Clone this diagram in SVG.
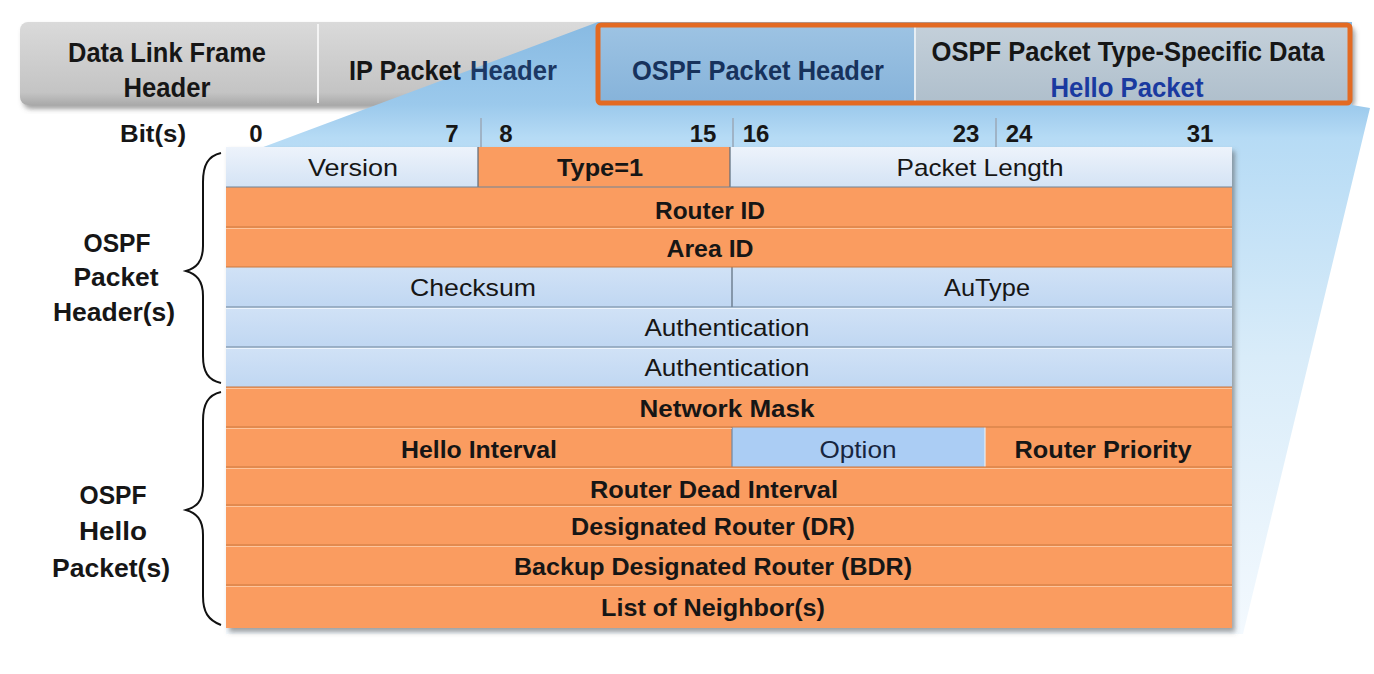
<svg xmlns="http://www.w3.org/2000/svg" width="1374" height="674" viewBox="0 0 1374 674">
<defs>
  <linearGradient id="gBar" x1="0" y1="0" x2="0" y2="1">
    <stop offset="0" stop-color="#dadada"/>
    <stop offset="0.85" stop-color="#c4c4c4"/>
    <stop offset="1" stop-color="#a9a9a9"/>
  </linearGradient>
  <linearGradient id="gFan" gradientUnits="userSpaceOnUse" x1="0" y1="22" x2="0" y2="632">
    <stop offset="0" stop-color="#88bae2"/>
    <stop offset="0.135" stop-color="#9bc9ec"/>
    <stop offset="0.19" stop-color="#b6dbf5"/>
    <stop offset="0.55" stop-color="#d9ecf9"/>
    <stop offset="1" stop-color="#f3f9fe"/>
  </linearGradient>
  <linearGradient id="gOspf" x1="0" y1="0" x2="0" y2="1">
    <stop offset="0" stop-color="#9dc3e3"/>
    <stop offset="1" stop-color="#86b3da"/>
  </linearGradient>
  <linearGradient id="gType" x1="0" y1="0" x2="0" y2="1">
    <stop offset="0" stop-color="#c4d0da"/>
    <stop offset="1" stop-color="#afbfcc"/>
  </linearGradient>
  <linearGradient id="gLight" x1="0" y1="0" x2="0" y2="1">
    <stop offset="0" stop-color="#edf3fb"/>
    <stop offset="1" stop-color="#d4e3f5"/>
  </linearGradient>
  <linearGradient id="gBlue" x1="0" y1="0" x2="0" y2="1">
    <stop offset="0" stop-color="#d1e2f6"/>
    <stop offset="1" stop-color="#c0d7f2"/>
  </linearGradient>
  <filter id="shadow" x="-5%" y="-5%" width="110%" height="115%">
    <feDropShadow dx="3" dy="4" stdDeviation="2.5" flood-color="#555" flood-opacity="0.55"/>
  </filter>
  <style>
    text { font-family: "Liberation Sans", Arial, sans-serif; fill: #161616; text-anchor: middle; }
    .b { font-weight: bold; }
    .st { text-anchor: start; }
    .top { font-size: 28px; font-weight: bold; }
    .cell { font-size: 24px; }
    .bit { font-size: 24px; font-weight: bold; }
    .lab { font-size: 26px; font-weight: bold; }
    .or { fill: #fa9c60; }
    .sepO { stroke: #c9783f; stroke-width: 1.2; }
    .sepOl { stroke: #fdc59d; stroke-width: 1; }
    .sepB { stroke: #6f8398; stroke-width: 1.2; }
    .sepBl { stroke: #eef5fd; stroke-width: 1; }
    .vdiv { stroke: #5a6a7a; stroke-width: 1.2; }
    .tick { stroke: #9fb3c6; stroke-width: 2; }
    .brace { fill: none; stroke: #111; stroke-width: 2; }
  </style>
</defs>

<!-- top bar -->
<g id="top-bar">
  <rect x="20" y="22" width="1332" height="83" rx="8" fill="url(#gBar)" filter="url(#shadow)"/>
</g>

<!-- light blue fan -->
<polygon id="fan" points="598,22 1352,22 1352,105 1370,108 1243,634 226,634 226,161" fill="url(#gFan)"/>

<g id="data-link-frame-header">
  <line x1="318" y1="24" x2="318" y2="103" stroke="#f4f4f4" stroke-width="2"/>
  <text class="top" x="167" y="62" textLength="198" lengthAdjust="spacingAndGlyphs">Data Link Frame</text>
  <text class="top" x="167" y="97" textLength="87" lengthAdjust="spacingAndGlyphs">Header</text>
</g>

<g id="ip-packet-header">
  <text class="top st" x="349" y="80" textLength="112" lengthAdjust="spacingAndGlyphs">IP Packet</text>
  <text class="top st" x="470" y="80" style="fill:#1c3864" textLength="87" lengthAdjust="spacingAndGlyphs">Header</text>
</g>

<g id="ospf-packet-header-top">
  <rect x="598" y="25" width="317" height="78" fill="url(#gOspf)"/>
  <text class="top" x="758" y="80" style="fill:#17325c" textLength="252" lengthAdjust="spacingAndGlyphs">OSPF Packet Header</text>
</g>

<g id="ospf-type-specific-data">
  <rect x="915" y="25" width="435" height="78" fill="url(#gType)"/>
  <line x1="915" y1="27" x2="915" y2="101" stroke="#e6edf3" stroke-width="2"/>
  <text class="top" x="1128" y="61" textLength="393" lengthAdjust="spacingAndGlyphs">OSPF Packet Type-Specific Data</text>
  <text class="top" x="1127" y="97" style="fill:#1a3aa0" textLength="153" lengthAdjust="spacingAndGlyphs">Hello Packet</text>
</g>

<rect id="highlight-box" x="598" y="25" width="752" height="78" rx="3" fill="none" stroke="#e36a22" stroke-width="5"/>

<!-- bit ruler -->
<g id="bit-ruler">
  <text class="bit" x="153" y="142" textLength="66" lengthAdjust="spacingAndGlyphs">Bit(s)</text>
  <text class="bit" x="256" y="142">0</text>
  <text class="bit" x="452" y="142">7</text>
  <text class="bit" x="506" y="142">8</text>
  <text class="bit" x="703" y="142">15</text>
  <text class="bit" x="756" y="142">16</text>
  <text class="bit" x="966" y="142">23</text>
  <text class="bit" x="1019" y="142">24</text>
  <text class="bit" x="1200" y="142">31</text>
  <line class="tick" x1="481" y1="118" x2="481" y2="147"/>
  <line class="tick" x1="733" y1="118" x2="733" y2="147"/>
  <line class="tick" x1="996" y1="118" x2="996" y2="147"/>
</g>

<!-- table -->
<g id="table" filter="url(#shadow)">
  <rect x="226" y="147" width="1006" height="481" class="or"/>
</g>

<g id="version">
  <rect x="226" y="147" width="252" height="40" fill="url(#gLight)"/>
  <text class="cell" x="353" y="176" textLength="90" lengthAdjust="spacingAndGlyphs">Version</text>
</g>
<g id="type">
  <rect x="478" y="147" width="252" height="40" class="or"/>
  <line class="vdiv" x1="478" y1="147" x2="478" y2="187"/>
  <text class="cell b" x="600" y="176" textLength="86" lengthAdjust="spacingAndGlyphs">Type=1</text>
</g>
<g id="packet-length">
  <rect x="730" y="147" width="502" height="40" fill="url(#gLight)"/>
  <line class="vdiv" x1="730" y1="147" x2="730" y2="187"/>
  <text class="cell" x="980" y="176" textLength="167" lengthAdjust="spacingAndGlyphs">Packet Length</text>
</g>
<g id="router-id">
  <rect x="226" y="187" width="1006" height="40" class="or"/>
  <text class="cell b" x="710" y="219" textLength="110" lengthAdjust="spacingAndGlyphs">Router ID</text>
</g>
<g id="area-id">
  <rect x="226" y="227" width="1006" height="40" class="or"/>
  <text class="cell b" x="710" y="257" textLength="87" lengthAdjust="spacingAndGlyphs">Area ID</text>
</g>
<g id="checksum">
  <rect x="226" y="267" width="506" height="40" fill="url(#gBlue)"/>
  <text class="cell" x="473" y="296" textLength="126" lengthAdjust="spacingAndGlyphs">Checksum</text>
</g>
<g id="autype">
  <rect x="732" y="267" width="500" height="40" fill="url(#gBlue)"/>
  <line class="vdiv" x1="732" y1="267" x2="732" y2="307"/>
  <text class="cell" x="987" y="296" textLength="86" lengthAdjust="spacingAndGlyphs">AuType</text>
</g>
<g id="authentication-1">
  <rect x="226" y="307" width="1006" height="40" fill="url(#gBlue)"/>
  <text class="cell" x="727" y="336" textLength="165" lengthAdjust="spacingAndGlyphs">Authentication</text>
</g>
<g id="authentication-2">
  <rect x="226" y="347" width="1006" height="40" fill="url(#gBlue)"/>
  <text class="cell" x="727" y="376" textLength="165" lengthAdjust="spacingAndGlyphs">Authentication</text>
</g>
<g id="network-mask">
  <rect x="226" y="387" width="1006" height="40" class="or"/>
  <text class="cell b" x="727" y="417" textLength="175" lengthAdjust="spacingAndGlyphs">Network Mask</text>
</g>
<g id="hello-interval">
  <rect x="226" y="427" width="506" height="40" class="or"/>
  <text class="cell b" x="479" y="458" textLength="156" lengthAdjust="spacingAndGlyphs">Hello Interval</text>
</g>
<g id="option">
  <rect x="732" y="427" width="253" height="40" fill="#abcdf4"/>
  <line x1="732" y1="427" x2="732" y2="467" stroke="#6e87a4" stroke-width="1.2"/>
  <line x1="985" y1="427" x2="985" y2="467" stroke="#e9eef4" stroke-width="1.2"/>
  <text class="cell" x="858" y="458" style="fill:#17253f" textLength="77" lengthAdjust="spacingAndGlyphs">Option</text>
</g>
<g id="router-priority">
  <rect x="986" y="427" width="246" height="40" class="or"/>
  <text class="cell b" x="1103" y="458" textLength="177" lengthAdjust="spacingAndGlyphs">Router Priority</text>
</g>
<g id="router-dead-interval">
  <rect x="226" y="467" width="1006" height="38" class="or"/>
  <text class="cell b" x="714" y="498" textLength="248" lengthAdjust="spacingAndGlyphs">Router Dead Interval</text>
</g>
<g id="designated-router">
  <rect x="226" y="505" width="1006" height="40" class="or"/>
  <text class="cell b" x="713" y="535" textLength="284" lengthAdjust="spacingAndGlyphs">Designated Router (DR)</text>
</g>
<g id="backup-designated-router">
  <rect x="226" y="545" width="1006" height="40" class="or"/>
  <text class="cell b" x="713" y="575" textLength="398" lengthAdjust="spacingAndGlyphs">Backup Designated Router (BDR)</text>
</g>
<g id="list-of-neighbors">
  <rect x="226" y="585" width="1006" height="43" class="or"/>
  <text class="cell b" x="713" y="616" textLength="224" lengthAdjust="spacingAndGlyphs">List of Neighbor(s)</text>
</g>

<!-- row separators -->
<g id="separators">
  <line class="sepB" x1="226" y1="187" x2="1232" y2="187"/>
  <line class="sepO" x1="226" y1="227" x2="1232" y2="227"/><line class="sepOl" x1="226" y1="228.5" x2="1232" y2="228.5"/>
  <line class="sepO" x1="226" y1="267" x2="1232" y2="267"/>
  <line class="sepB" x1="226" y1="307" x2="1232" y2="307"/><line class="sepBl" x1="226" y1="308.5" x2="1232" y2="308.5"/>
  <line class="sepB" x1="226" y1="347" x2="1232" y2="347"/><line class="sepBl" x1="226" y1="348.5" x2="1232" y2="348.5"/>
  <line class="sepO" x1="226" y1="387" x2="1232" y2="387"/><line class="sepOl" x1="226" y1="388.5" x2="1232" y2="388.5"/>
  <line class="sepO" x1="226" y1="427" x2="1232" y2="427"/><line class="sepOl" x1="226" y1="428.5" x2="732" y2="428.5"/>
  <line class="sepO" x1="226" y1="467" x2="1232" y2="467"/><line class="sepOl" x1="226" y1="468.5" x2="1232" y2="468.5"/>
  <line class="sepO" x1="226" y1="505" x2="1232" y2="505"/><line class="sepOl" x1="226" y1="506.5" x2="1232" y2="506.5"/>
  <line class="sepO" x1="226" y1="545" x2="1232" y2="545"/><line class="sepOl" x1="226" y1="546.5" x2="1232" y2="546.5"/>
  <line class="sepO" x1="226" y1="585" x2="1232" y2="585"/><line class="sepOl" x1="226" y1="586.5" x2="1232" y2="586.5"/>
</g>

<!-- side labels -->
<g id="label-ospf-packet-header">
  <text class="lab" x="117" y="252" textLength="67" lengthAdjust="spacingAndGlyphs">OSPF</text>
  <text class="lab" x="116" y="286" textLength="85" lengthAdjust="spacingAndGlyphs">Packet</text>
  <text class="lab" x="114" y="321" textLength="122" lengthAdjust="spacingAndGlyphs">Header(s)</text>
</g>
<g id="label-ospf-hello-packet">
  <text class="lab" x="113" y="504" textLength="67" lengthAdjust="spacingAndGlyphs">OSPF</text>
  <text class="lab" x="113" y="540" textLength="68" lengthAdjust="spacingAndGlyphs">Hello</text>
  <text class="lab" x="111" y="577" textLength="118" lengthAdjust="spacingAndGlyphs">Packet(s)</text>
</g>

<!-- braces -->
<g id="connectors">
  <path class="brace" d="M221,153 C208,156 203,165 203,182 L203,246 C203,262 196,268 186,271 C196,274 203,280 203,296 L203,356 C203,372 208,380 221,383"/>
  <path class="brace" d="M221,392 C208,395 203,404 203,421 L203,486 C203,502 196,507 186,510 C196,513 203,519 203,535 L203,596 C203,612 208,620 221,625"/>
</g>
</svg>
